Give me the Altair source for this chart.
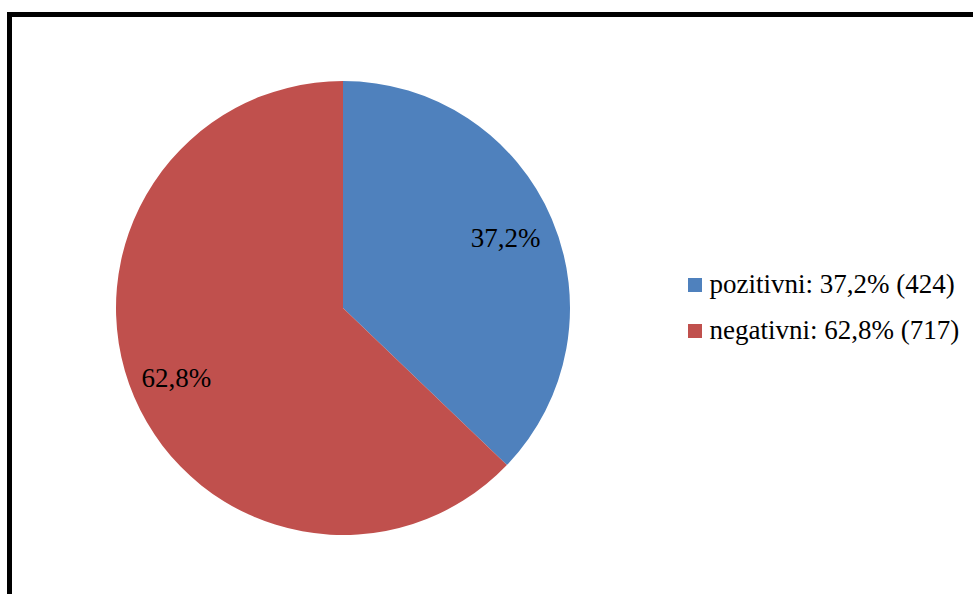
import altair as alt
import pandas as pd

categories = ["pozitivni", "negativni"]
counts = [424, 717]
colors = ["#4F81BD", "#C0504D"]

total = sum(counts)
pct_text = [f"{c / total * 100:.1f}".replace(".", ",") + "%" for c in counts]
legend_labels = [f"{cat}: {p} ({c})" for cat, p, c in zip(categories, pct_text, counts)]

df = pd.DataFrame({
    "idx": list(range(len(categories))),
    "legend": legend_labels,
    "count": counts,
    "pct": pct_text,
})

W = 973 - 9.5
H = 594 - 14.5
CX, CY, R = 333.5, 293.5, 227

base = alt.Chart(df).encode(
    theta=alt.Theta("count:Q", stack=True),
    order=alt.Order("idx:Q"),
)

pie = base.mark_arc(outerRadius=R, x=CX, y=CY).encode(
    color=alt.Color(
        "legend:N",
        scale=alt.Scale(domain=legend_labels, range=colors),
        sort=legend_labels,
        legend=alt.Legend(
            title=None,
            orient="none",
            legendX=672,
            legendY=257,
            symbolType="square",
            symbolSize=196,
            symbolStrokeWidth=0,
            labelFont="Liberation Serif",
            labelFontSize=27,
            labelColor="#000000",
            labelOffset=1,
            rowPadding=18,
            labelLimit=400,
            padding=0,
        ),
    ),
)

labels = base.mark_text(
    radius=179, x=CX - 2, y=CY + 1, font="Liberation Serif", fontSize=27, color="#000000"
).encode(text="pct:N")

frame = alt.Chart(df).mark_rect(fill=None, stroke="#000000", strokeWidth=5).encode(
    x=alt.value(0), x2=alt.value(W + 60), y=alt.value(0), y2=alt.value(H + 60)
)

chart = (
    alt.layer(pie, labels, frame)
    .properties(
        width=W,
        height=H,
        autosize=alt.AutoSizeParams(type="none"),
        padding={"left": 9.5, "top": 14.5, "right": 0, "bottom": 0},
        background="#ffffff",
    )
    .configure_view(stroke=None)
)

chart.save("out.html", embed_options={"renderer": "svg", "actions": False})
